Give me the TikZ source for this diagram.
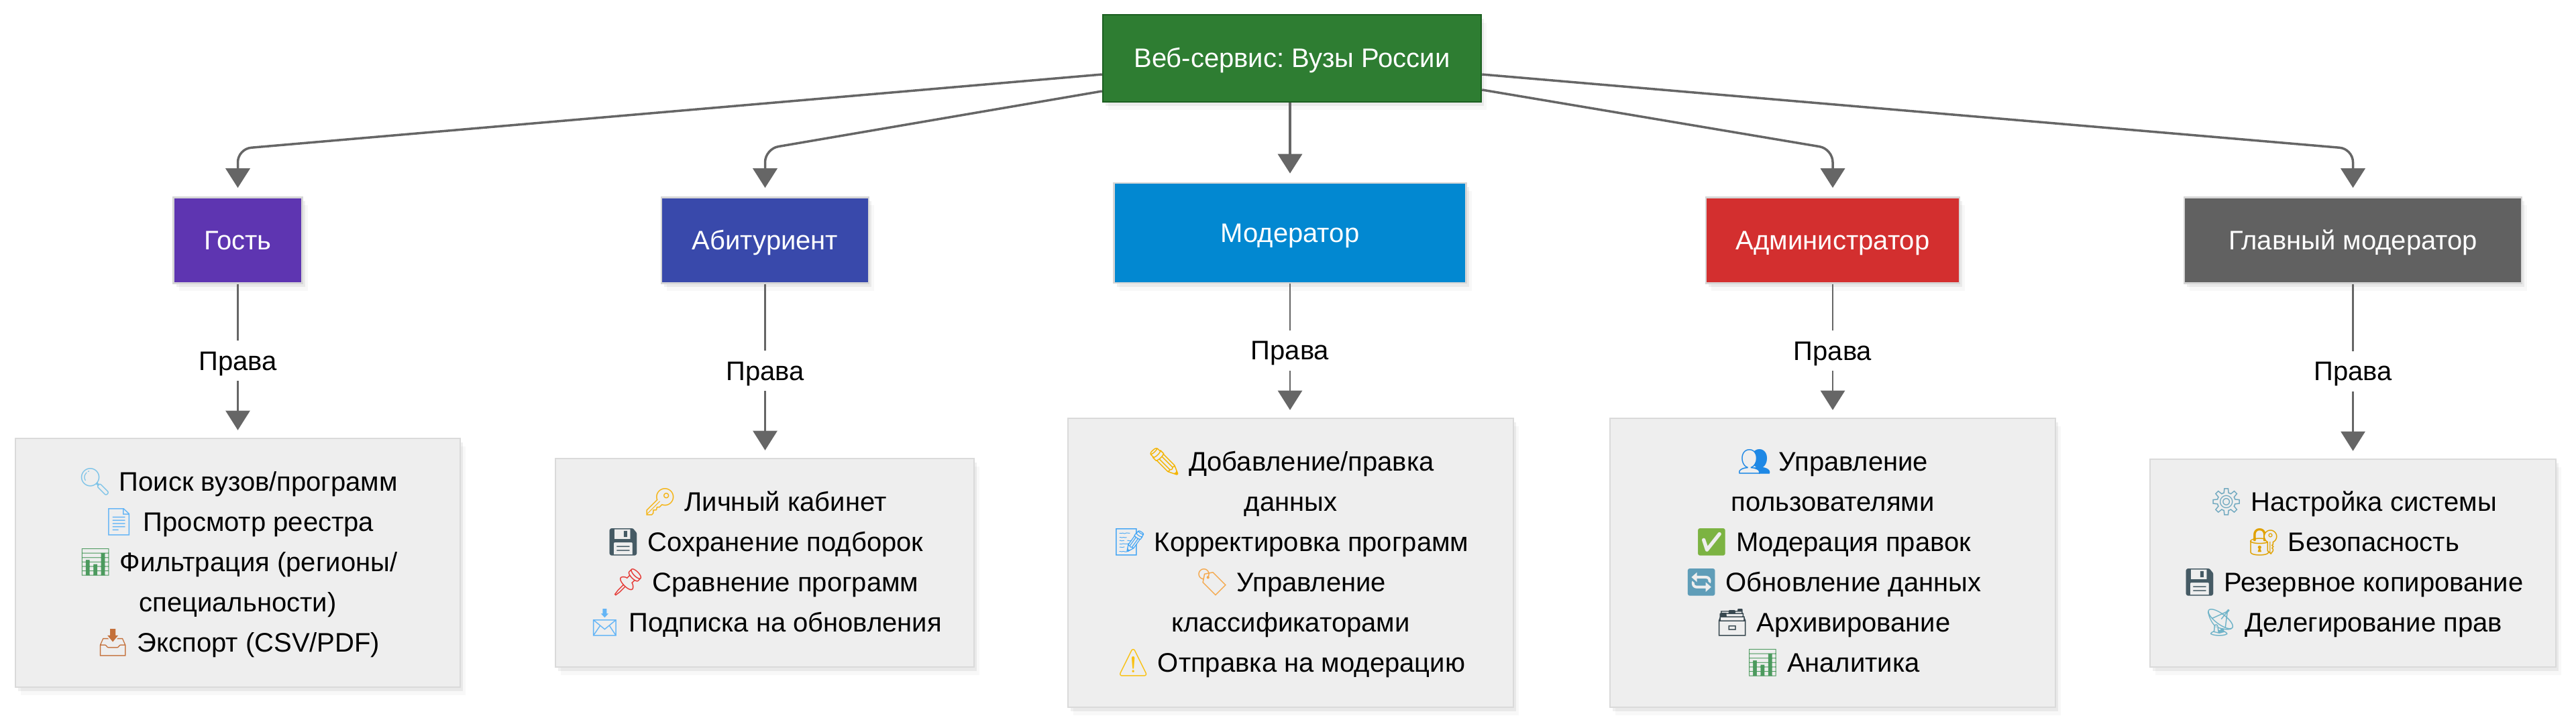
\documentclass[tikz,border=0pt]{standalone}
\usepackage{fontspec}
\setmainfont{Liberation Sans}
\newfontfamily\emojifont{Noto Emoji}
\frenchspacing
\usetikzlibrary{arrows.meta, positioning, shadows, calc}
\definecolor{mRoot}{HTML}{2E7D32}
\definecolor{mRootLine}{HTML}{1B5E20}
\definecolor{mGuest}{HTML}{5E35B1}
\definecolor{mAbit}{HTML}{3949AB}
\definecolor{mModer}{HTML}{0288D1}
\definecolor{mAdmin}{HTML}{D32F2F}
\definecolor{mChief}{HTML}{616161}
\definecolor{mEdge}{HTML}{666666}
\definecolor{mPanel}{HTML}{EEEEEE}
\definecolor{mPanelLine}{HTML}{DADADA}
\newcommand{\ico}[2]{{\emojifont\textcolor[HTML]{#1}{#2}}}
\tikzset{
    softshadow/.style={drop shadow={shadow xshift=0.08cm, shadow yshift=-0.12cm, opacity=0.06},
      drop shadow={shadow xshift=0.04cm, shadow yshift=-0.06cm, opacity=0.12}},
    basefont/.style={font=\fontsize{11.38}{17.07}\selectfont},
    oneline/.style={text height=0.32cm, text depth=0.042cm},
    rolebox/.style={basefont, oneline, draw=#1, fill=#1, line width=0.025cm, text=white, inner sep=0pt, softshadow},
    rootbox/.style={rolebox=mRoot, draw=mRootLine, minimum width=5.64cm, minimum height=1.3cm},
    panelbox/.style={basefont, draw=mPanelLine, fill=mPanel, line width=0.025cm, inner sep=0pt, align=center, minimum height=#1, softshadow},
    rootedge/.style={draw=mEdge, line width=0.035cm, rounded corners=0.2cm, shorten >=0.13cm,
      -{Triangle[length=0.29cm, width=0.36cm]}},
    permedge/.style={draw=mEdge, line width=0.025cm, shorten >=0.11cm,
      -{Triangle[length=0.29cm, width=0.36cm]}},
    permlabel/.style={basefont, oneline, midway, fill=white, inner sep=0pt, minimum width=1.3cm, minimum height=0.6cm}
}

\begin{document}
\begin{tikzpicture}
    \useasboundingbox (0,0) rectangle (38.4,10.8);
    \node[rootbox] (root) at (19.26,9.93) {Веб-сервис: Вузы России};
    \foreach \n/\txt/\x/\y/\w/\h/\fc in {
        guest/Гость/3.545/7.215/1.92/1.28/mGuest,
        abit/Абитуриент/11.405/7.215/3.09/1.28/mAbit,
        moder/Модератор/19.23/7.325/5.25/1.49/mModer,
        admin/Администратор/27.32/7.215/3.78/1.28/mAdmin,
        chief/Главный модератор/35.075/7.215/5.03/1.28/mChief}
      \node[rolebox=\fc, draw=black!16, minimum width=\w cm, minimum height=\h cm] (\n) at (\x,\y) {\txt};

    \node[panelbox=3.71cm, minimum width=6.63cm] (guestBox) at (3.545,2.405) {
      \ico{7FC4E8}{🔍} Поиск вузов/программ\\
      \ico{64B5F6}{📄} Просмотр реестра\\
      \ico{4C9A5E}{📊} Фильтрация (регионы/\\
      специальности)\\
      \ico{C4703A}{📥} Экспорт (CSV/PDF)};
    \node[panelbox=3.11cm, minimum width=6.24cm] (abitBox) at (11.40,2.405) {
      \ico{F5B414}{🔑} Личный кабинет\\
      \ico{455A64}{💾} Сохранение подборок\\
      \ico{E53935}{📌} Сравнение программ\\
      \ico{64B5F6}{📩} Подписка на обновления};
    \node[panelbox=4.31cm, minimum width=6.64cm] (moderBox) at (19.24,2.405) {
      \ico{F4B400}{✏} Добавление/правка\\
      данных\\
      \ico{42A5F5}{📝} Корректировка программ\\
      \ico{F5A94E}{🏷} Управление\\
      классификаторами\\
      \ico{F9C113}{⚠} Отправка на модерацию};
    \node[panelbox=4.31cm, minimum width=6.64cm] (adminBox) at (27.32,2.405) {
      \ico{1E88E5}{👥} Управление\\
      пользователями\\
      \ico{7CB342}{✅} Модерация правок\\
      \ico{5F9DB8}{🔄} Обновление данных\\
      \ico{37474F}{🗃} Архивирование\\
      \ico{4C9A5E}{📊} Аналитика};
    \node[panelbox=3.10cm, minimum width=6.05cm] (chiefBox) at (35.075,2.40) {
      \ico{6FA8BF}{⚙} Настройка системы\\
      \ico{E0A100}{🔐} Безопасность\\
      \ico{455A64}{💾} Резервное копирование\\
      \ico{6FB3C8}{📡} Делегирование прав};

    \coordinate (bendline) at (0,8.58);
    \draw[rootedge] ($(root.west)+(0,-0.24)$) -- (guest.north |- bendline) -- (guest.north);
    \draw[rootedge] ($(root.west)+(0,-0.49)$) -- (abit.north |- bendline) -- (abit.north);
    \draw[rootedge] (moder.north |- root.south) -- (moder.north);
    \draw[rootedge] ($(root.east)+(0,-0.47)$) -- (admin.north |- bendline) -- (admin.north);
    \draw[rootedge] ($(root.east)+(0,-0.24)$) -- (chief.north |- bendline) -- (chief.north);

    \foreach \n in {guest, abit, moder, admin, chief}
      \draw[permedge] (\n.south) -- node[permlabel] {Права} (\n.south |- \n Box.north);
\end{tikzpicture}
\end{document}
